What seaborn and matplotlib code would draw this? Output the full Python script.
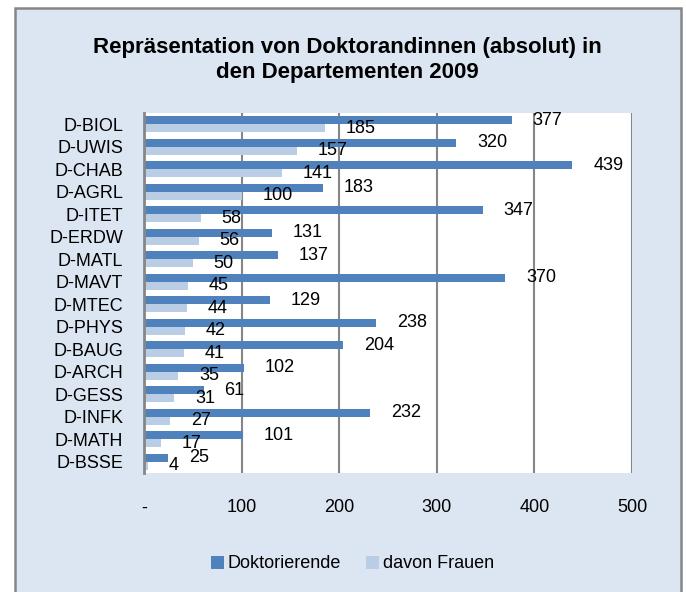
import numpy as np
import pandas as pd
import matplotlib
matplotlib.use("Agg")
import matplotlib.pyplot as plt
from matplotlib.patches import Rectangle
import seaborn as sns

# Doktorierende per Departement 2009 (ETH)
departements = ["D-BIOL", "D-UWIS", "D-CHAB", "D-AGRL", "D-ITET", "D-ERDW", "D-MATL", "D-MAVT",
                "D-MTEC", "D-PHYS", "D-BAUG", "D-ARCH", "D-GESS", "D-INFK", "D-MATH", "D-BSSE"]
doktorierende = [377, 320, 439, 183, 347, 131, 137, 370, 129, 238, 204, 102, 61, 232, 101, 25]
davon_frauen = [185, 157, 141, 100, 58, 56, 50, 45, 44, 42, 41, 35, 31, 27, 17, 4]
series_names = ["Doktorierende", "davon Frauen"]
x_ticks = [0, 100, 200, 300, 400, 500]
x_ticklabels = ["-", "100", "200", "300", "400", "500"]

df = pd.DataFrame({
    "dep": departements * 2,
    "wert": doktorierende + davon_frauen,
    "serie": [series_names[0]] * len(departements) + [series_names[1]] * len(departements),
})

sns.set_style("white")
plt.rcParams["font.family"] = ["Liberation Sans", "DejaVu Sans"]
plt.rcParams["text.color"] = "black"
plt.rcParams["xtick.color"] = "black"
plt.rcParams["ytick.color"] = "black"

W, H = 686, 592
fig = plt.figure(figsize=(W / 100, H / 100), dpi=100)
fig.patch.set_facecolor("white")
# light blue chart area with grey frame (Excel style)
fig.patches.append(Rectangle((15 / W, -0.1), (681 - 15) / W, 1.1 - 8 / H, transform=fig.transFigure,
                             facecolor="#dce6f2", edgecolor="#868686", lw=1.8, zorder=-1))

ax = fig.add_axes([144 / W, 1 - 473 / H, (632 - 144) / W, (473 - 113) / H])
ax.set_facecolor("white")

sns.barplot(data=df, y="dep", x="wert", hue="serie", orient="h", ax=ax,
            palette=["#4f81bd", "#b9cde5"], width=0.72, gap=0.05, saturation=1,
            linewidth=0, errorbar=None)

for cont in ax.containers:
    ax.bar_label(cont, fmt="%d", padding=15, fontsize=13, color="black")

ax.set_xlim(0, 500)
ax.set_ylim(15.5, -0.5)
ax.set_xticks(x_ticks)
ax.set_xticklabels(x_ticklabels)
ax.set_xlabel("")
ax.set_ylabel("")
ax.tick_params(axis="y", length=0, pad=15, labelsize=13, labelcolor="black")
ax.tick_params(axis="x", length=0, pad=19, labelsize=13, labelcolor="black")
ax.xaxis.grid(True, color="#868686", lw=1.5)
ax.set_axisbelow(True)
for s in ["top", "right", "bottom"]:
    ax.spines[s].set_visible(False)
ax.spines["left"].set_color("#868686")
ax.spines["left"].set_linewidth(2)

handles, labels = ax.get_legend_handles_labels()
ax.get_legend().remove()
fig.legend(handles, labels, loc="center", bbox_to_anchor=(0.514, 1 - 564 / H), ncol=2,
           frameon=False, fontsize=13, handlelength=0.7, handleheight=0.7,
           handletextpad=0.2, columnspacing=1.4, labelcolor="black")

fig.text(0.506, 1 - 60 / H, "Repräsentation von Doktorandinnen (absolut) in\nden Departementen 2009",
         ha="center", va="center", fontsize=16, fontweight="bold", linespacing=1.28, color="black")

fig.savefig("out.png", dpi=100)
